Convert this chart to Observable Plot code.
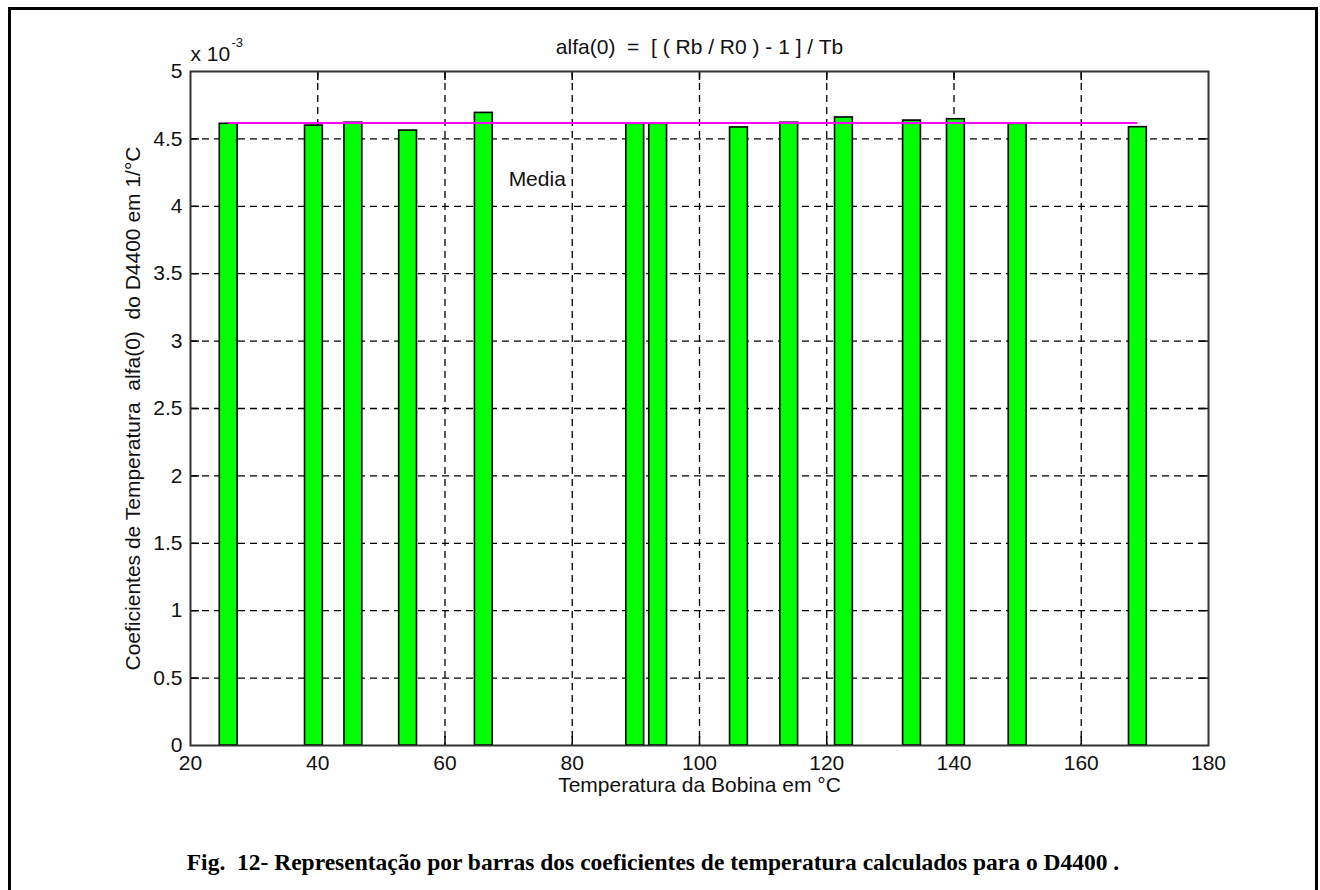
<!DOCTYPE html>
<html>
<head>
<meta charset="utf-8">
<script src="https://cdn.jsdelivr.net/npm/d3@7"></script>
<script src="https://cdn.jsdelivr.net/npm/@observablehq/plot@0.6"></script>
<style>
  html, body { margin: 0; padding: 0; background: #fff; }
  #page { position: relative; width: 1320px; height: 890px; overflow: hidden; background: #fff; }
  #frame { position: absolute; left: 8px; top: 7px; width: 1310px; height: 940px; border: 3px solid #000; box-sizing: border-box; }
  #chart { position: absolute; left: 0; top: 0; }
  #caption { position: absolute; left: 0; width: 1306px; top: 849px; text-align: center; line-height: 28px;
             font: bold 23.5px "Liberation Serif", "Times New Roman", serif; white-space: pre; color: #000; }
</style>
</head>
<body>
<div id="page">
  <div id="frame"></div>
  <div id="chart"></div>
  <div id="caption"></div>
</div>
<script>
// ---- data ----
const temperatures = [26.0, 39.4, 45.6, 54.2, 66.1, 89.9, 93.5, 106.2, 114.1, 122.7, 133.4, 140.3, 150.0, 168.9]; // °C
const alphaValues  = [4.612, 4.599, 4.620, 4.562, 4.693, 4.612, 4.612, 4.585, 4.620, 4.659, 4.636, 4.646, 4.612, 4.587]; // × 10^-3 1/°C
const xTicks = [20, 40, 60, 80, 100, 120, 140, 160, 180];
const yTicks = [0, 0.5, 1, 1.5, 2, 2.5, 3, 3.5, 4, 4.5, 5];
const xDomain = [20, 180];
const yDomain = [0, 5];
const titleText = "alfa(0)  =  [ ( Rb / R0 ) - 1 ] / Tb";
const xLabelText = "Temperatura da Bobina em °C";
const yLabelText = "Coeficientes de Temperatura  alfa(0)  do D4400 em 1/°C";
const exponentBase = "x 10";
const exponentPower = "-3";
const meanLabel = [{text: "Media", temperature: 70, alpha: 4.2}];
const captionText = "Fig.  12- Representação por barras dos coeficientes de temperatura calculados para o D4400 .";
const barWidthC = 2.8; // bar width in °C

// ---- build ----
const bars = temperatures.map((t, i) => ({t, a: alphaValues[i]}));
const meanAlpha = d3.mean(alphaValues);
const innerX = xTicks.slice(1, -1);
const innerY = yTicks.slice(1, -1);
const tickLen = 9;
const font = "'Liberation Sans', Arial, sans-serif";
const fs = 21;

const chart = Plot.plot({
  width: 1320,
  height: 800,
  marginLeft: 190,
  marginRight: 112,
  marginTop: 71,
  marginBottom: 55,
  style: {fontFamily: font, fontSize: fs + "px", background: "transparent", overflow: "visible", whiteSpace: "pre"},
  x: {domain: xDomain},
  y: {domain: yDomain},
  marks: [
    // dashed grid
    Plot.ruleX(innerX, {x: d => d, stroke: "#000", strokeWidth: 1.3, strokeDasharray: "7,5"}),
    Plot.ruleY(innerY, {y: d => d, stroke: "#000", strokeWidth: 1.3, strokeDasharray: "7,5"}),
    // inward tick marks on all four sides
    Plot.ruleX(innerX, {x: d => d, y1: () => yDomain[0], y2: () => yDomain[1], stroke: "#000", strokeWidth: 1.5, strokeDasharray: `${tickLen},3000`}),
    Plot.ruleX(innerX, {x: d => d, y1: () => yDomain[1], y2: () => yDomain[0], stroke: "#000", strokeWidth: 1.5, strokeDasharray: `${tickLen},3000`}),
    Plot.ruleY(innerY, {y: d => d, x1: () => xDomain[0], x2: () => xDomain[1], stroke: "#000", strokeWidth: 1.5, strokeDasharray: `${tickLen},3000`}),
    Plot.ruleY(innerY, {y: d => d, x1: () => xDomain[1], x2: () => xDomain[0], stroke: "#000", strokeWidth: 1.5, strokeDasharray: `${tickLen},3000`}),
    // bars
    Plot.rectY(bars, {x1: d => d.t - barWidthC / 2, x2: d => d.t + barWidthC / 2, y: "a", fill: "#00ff00", stroke: "#000", strokeWidth: 1.6}),
    // mean line
    Plot.ruleY([meanAlpha], {y: d => d, x1: () => d3.min(temperatures), x2: () => d3.max(temperatures), stroke: "#ff00ff", strokeWidth: 2}),
    Plot.text(meanLabel, {x: "temperature", y: "alpha", text: "text", textAnchor: "start", lineAnchor: "middle", fontSize: fs, fill: "#111"}),
    // box
    Plot.frame({stroke: "#333", strokeWidth: 2}),
    // axes
    Plot.axisX({ticks: xTicks, tickSize: 0, tickPadding: 10, tickFormat: d => String(d), label: null, fontSize: fs, fill: "#111"}),
    Plot.axisY({ticks: yTicks, tickSize: 0, tickPadding: 8, tickFormat: d => String(d), label: null, fontSize: fs, fill: "#111"}),
    // labels
    Plot.text([titleText], {frameAnchor: "top", dy: -24, lineAnchor: "middle", textAnchor: "middle", fontSize: fs, fill: "#111"}),
    Plot.text([xLabelText], {frameAnchor: "bottom", dy: 40, lineAnchor: "middle", textAnchor: "middle", fontSize: fs, fill: "#111"}),
    Plot.text([yLabelText], {frameAnchor: "left", dx: -57, rotate: -90, lineAnchor: "middle", textAnchor: "middle", fontSize: fs, fill: "#111"}),
    Plot.text([exponentBase], {frameAnchor: "top-left", dy: -17, lineAnchor: "middle", textAnchor: "start", fontSize: fs, fill: "#111"}),
    Plot.text([exponentPower], {frameAnchor: "top-left", dx: 41, dy: -29, lineAnchor: "middle", textAnchor: "start", fontSize: 13, fill: "#111"})
  ]
});

document.getElementById("chart").appendChild(chart);
document.getElementById("caption").textContent = captionText;
</script>
</body>
</html>
